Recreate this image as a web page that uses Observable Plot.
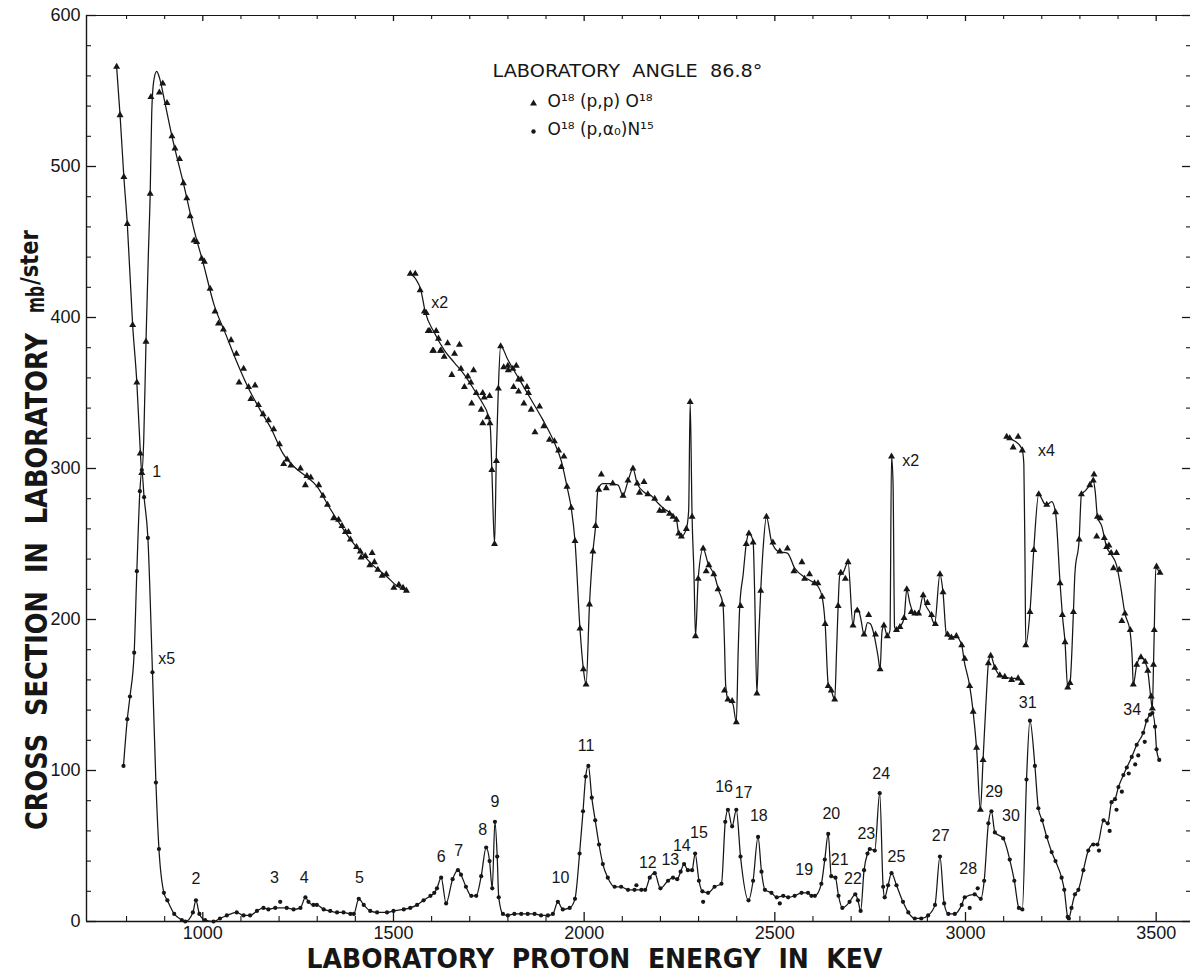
<!DOCTYPE html>
<html><head><meta charset="utf-8">
<script src="https://cdn.jsdelivr.net/npm/d3@7"></script>
<script src="https://cdn.jsdelivr.net/npm/@observablehq/plot@0.6"></script>
<style>body{margin:0;background:#fff}svg{display:block}</style>
</head><body><div id="chart"></div>
<script>
// ---- axes ----
const xDomain = [695, 3590];
const yDomain = [0, 600];
const xMajor = [1000, 1500, 2000, 2500, 3000, 3500];
const xMinor = [800, 900, 1100, 1200, 1300, 1400, 1600, 1700, 1800, 1900, 2100, 2200, 2300, 2400, 2600, 2700, 2800, 2900, 3100, 3200, 3300, 3400];
const yMajor = [0, 100, 200, 300, 400, 500, 600];
const yMinor = [20, 40, 60, 80, 120, 140, 160, 180, 220, 240, 260, 280, 320, 340, 360, 380, 420, 440, 460, 480, 520, 540, 560, 580];

// ---- O18(p,p)O18 : segment 1 (x1) ----
const ppSeg1Line = [[774,566],[783,534],[793,493],[802,462],[816,395],[827,357],[836,312],[840,297],[845,318],[851,384],[857,440],[862,482],[866,535],[871,556],[879,563],[886,559],[900,543],[920,519],[950,488],[980,455],[1000,437],[1030,408],[1060,389],[1090,370],[1120,353],[1150,339],[1180,326],[1210,310],[1240,301],[1270,295],[1300,288],[1330,275],[1360,263],[1390,252],[1420,243],[1450,235],[1480,229],[1510,222],[1534,219]];
const ppSeg1Pts = [[774,566],[783,534],[793,493],[802,462],[816,395],[827,357],[836,310],[840,297],[851,384],[862,482],[864,546],[886,549],[895,555],[906,542],[919,520],[927,512],[939,505],[949,489],[958,479],[967,467],[977,451],[984,450],[997,439],[1004,437],[1019,419],[1032,404],[1041,396],[1054,392],[1074,385],[1088,376],[1095,357],[1107,366],[1120,354],[1126,346],[1137,355],[1146,342],[1158,336],[1172,332],[1186,326],[1201,316],[1212,303],[1221,306],[1231,302],[1256,300],[1269,289],[1273,295],[1283,294],[1304,289],[1315,282],[1327,276],[1343,267],[1356,266],[1365,262],[1374,258],[1382,258],[1387,253],[1403,248],[1413,245],[1415,241],[1426,242],[1438,236],[1444,244],[1450,238],[1459,233],[1470,229],[1481,230],[1501,221],[1514,223],[1525,221],[1534,219]];

// ---- O18(p,p)O18 : segment 2 (x2) ----
const ppSeg2Line = [[1544,429],[1557,426],[1572,418],[1583,404],[1607,390],[1634,378],[1660,370],[1686,362],[1712,352],[1734,343],[1747,336],[1754,327],[1758,299],[1765,250],[1770,312],[1775,353],[1781,381],[1800,372],[1830,359],[1860,346],[1890,333],[1922,317],[1940,305],[1955,288],[1966,274],[1976,252],[1989,194],[1998,167],[2005,157],[2014,210],[2023,245],[2030,262],[2036,286],[2049,290],[2071,290],[2089,289],[2102,282],[2113,290],[2128,300],[2139,290],[2159,284],[2176,282],[2194,277],[2211,273],[2229,270],[2242,266],[2248,257],[2255,255],[2268,260],[2274,272],[2278,344],[2283,268],[2288,230],[2292,189],[2299,227],[2312,247],[2325,237],[2342,229],[2353,219],[2364,210],[2368,184],[2371,157],[2377,147],[2390,144],[2399,132],[2404,180],[2408,209],[2417,230],[2425,250],[2432,257],[2443,252],[2447,219],[2453,151],[2458,190],[2463,219],[2469,246],[2478,268],[2491,252],[2510,245],[2533,244],[2552,234],[2578,228],[2604,224],[2613,222],[2624,215],[2632,197],[2640,157],[2648,153],[2657,147],[2662,180],[2666,209],[2670,229],[2679,231],[2692,238],[2705,196],[2711,206],[2718,207],[2725,201],[2734,190],[2743,198],[2751,197],[2760,190],[2771,175],[2776,167],[2781,192],[2786,196],[2795,189],[2802,193],[2806,308],[2810,290],[2814,195],[2819,193],[2828,195],[2839,201],[2846,220],[2854,211],[2865,204],[2877,204],[2889,216],[2895,210],[2906,205],[2919,197],[2933,230],[2941,218],[2950,190],[2963,188],[2974,189],[2990,183],[2997,172],[3011,156],[3020,139],[3029,115],[3039,74],[3046,107],[3055,151],[3060,171],[3066,176],[3077,168],[3090,163],[3103,162],[3121,161],[3138,161],[3147,158]];
const ppSeg2Pts = [[1544,429],[1557,429],[1570,418],[1581,404],[1586,403],[1591,391],[1595,391],[1603,378],[1605,378],[1612,391],[1618,386],[1623,378],[1625,378],[1633,374],[1642,383],[1653,362],[1660,376],[1673,382],[1677,366],[1686,354],[1695,361],[1703,357],[1705,343],[1710,365],[1717,350],[1730,339],[1734,350],[1734,330],[1738,347],[1747,334],[1752,348],[1753,330],[1758,299],[1765,250],[1770,305],[1775,353],[1781,381],[1789,367],[1800,368],[1801,365],[1813,366],[1815,354],[1822,368],[1828,359],[1828,351],[1835,359],[1842,343],[1850,354],[1854,350],[1861,339],[1871,324],[1883,341],[1894,328],[1909,319],[1922,318],[1933,312],[1940,301],[1947,308],[1955,288],[1966,274],[1976,252],[1989,194],[1998,167],[2005,157],[2014,210],[2023,245],[2030,262],[2038,286],[2045,296],[2058,287],[2075,290],[2102,282],[2115,292],[2128,300],[2139,290],[2145,284],[2157,291],[2167,283],[2185,280],[2198,272],[2207,272],[2220,280],[2224,270],[2233,268],[2242,266],[2248,257],[2255,255],[2268,260],[2278,344],[2283,268],[2292,189],[2299,227],[2312,247],[2320,232],[2327,236],[2340,230],[2351,220],[2362,210],[2368,153],[2377,147],[2388,146],[2399,132],[2410,209],[2425,250],[2432,257],[2443,251],[2453,151],[2463,219],[2478,268],[2495,251],[2513,245],[2533,247],[2550,232],[2571,238],[2578,227],[2591,230],[2604,224],[2613,224],[2624,215],[2632,197],[2640,156],[2648,153],[2657,147],[2666,209],[2673,231],[2685,227],[2692,238],[2705,196],[2716,206],[2734,190],[2746,203],[2764,190],[2776,167],[2786,196],[2795,189],[2806,308],[2819,193],[2828,195],[2839,201],[2846,220],[2858,205],[2867,204],[2877,204],[2889,216],[2900,211],[2911,203],[2921,197],[2933,230],[2941,218],[2953,190],[2963,188],[2976,189],[2990,183],[2998,174],[3011,156],[3020,139],[3029,115],[3039,74],[3046,107],[3060,171],[3066,176],[3077,168],[3090,163],[3103,162],[3121,160],[3138,161],[3147,158]];

// ---- O18(p,p)O18 : segment 3 (x4) ----
const ppSeg3Line = [[3108,321],[3116,320],[3130,318],[3140,316],[3149,312],[3153,303],[3156,240],[3158,183],[3169,205],[3179,246],[3192,283],[3200,280],[3206,277],[3213,276],[3226,278],[3236,271],[3248,224],[3254,203],[3261,185],[3268,155],[3274,158],[3283,205],[3287,231],[3298,253],[3304,283],[3313,285],[3326,289],[3335,292],[3340,285],[3346,268],[3357,262],[3370,248],[3382,243],[3396,236],[3408,220],[3418,204],[3431,193],[3437,175],[3440,157],[3449,170],[3460,175],[3471,172],[3478,166],[3486,148],[3490,141],[3493,170],[3495,193],[3499,234],[3510,231]];
const ppSeg3Pts = [[3108,321],[3116,320],[3125,314],[3138,321],[3149,312],[3158,183],[3169,205],[3179,246],[3192,283],[3213,276],[3236,271],[3248,224],[3254,203],[3261,185],[3268,155],[3274,158],[3283,205],[3298,253],[3304,283],[3326,289],[3335,292],[3337,296],[3346,268],[3353,267],[3344,255],[3364,254],[3370,248],[3376,249],[3382,244],[3396,244],[3388,234],[3403,233],[3418,204],[3410,199],[3432,193],[3440,157],[3449,170],[3460,175],[3471,172],[3478,166],[3487,149],[3490,141],[3493,170],[3495,193],[3501,235],[3510,231]];

// ---- O18(p,alpha0)N15 ----
const alphaLine = [[792,103],[802,134],[809,149],[820,178],[827,232],[835,285],[840,299],[846,281],[856,254],[868,165],[877,92],[885,48],[898,19],[907,14],[925,5],[945,1],[954,0],[974,6],[982,14],[991,5],[1006,1],[1028,0],[1045,2],[1063,4],[1089,6],[1107,4],[1124,4],[1142,7],[1159,9],[1172,8],[1190,9],[1220,9],[1238,8],[1256,9],[1269,16],[1277,13],[1290,11],[1299,11],[1317,8],[1334,7],[1352,6],[1369,6],[1387,5],[1396,5],[1409,15],[1422,11],[1439,7],[1457,6],[1483,6],[1500,7],[1527,8],[1544,9],[1562,11],[1579,14],[1597,17],[1607,19],[1614,22],[1625,29],[1638,12],[1655,28],[1669,34],[1677,31],[1690,23],[1704,17],[1717,17],[1730,30],[1743,49],[1752,40],[1759,22],[1766,66],[1772,43],[1776,16],[1787,5],[1800,4],[1817,5],[1835,5],[1852,5],[1870,5],[1887,4],[1905,4],[1918,5],[1931,13],[1944,8],[1962,9],[1976,15],[1988,45],[1997,73],[2004,96],[2011,103],[2020,82],[2029,67],[2039,51],[2049,38],[2062,29],[2080,23],[2097,23],[2115,21],[2132,21],[2150,21],[2160,21],[2172,29],[2185,32],[2200,22],[2220,27],[2233,29],[2244,28],[2253,33],[2262,38],[2272,34],[2283,34],[2291,45],[2301,27],[2310,20],[2325,19],[2342,23],[2360,25],[2370,66],[2377,74],[2388,63],[2399,74],[2410,43],[2431,14],[2443,27],[2456,56],[2465,33],[2474,21],[2491,19],[2505,16],[2522,17],[2535,16],[2552,17],[2570,19],[2587,19],[2596,17],[2605,17],[2622,25],[2631,41],[2640,58],[2648,30],[2659,29],[2667,17],[2677,9],[2696,13],[2711,18],[2718,14],[2725,7],[2734,34],[2743,45],[2749,48],[2762,47],[2775,85],[2784,23],[2788,16],[2797,24],[2806,32],[2819,24],[2836,13],[2850,6],[2867,2],[2884,2],[2902,4],[2920,11],[2933,43],[2944,12],[2955,5],[2972,5],[2990,11],[2998,16],[3024,18],[3040,15],[3049,27],[3060,65],[3068,73],[3077,59],[3099,55],[3116,41],[3128,27],[3140,9],[3149,8],[3160,94],[3169,133],[3182,103],[3191,75],[3201,67],[3213,56],[3226,46],[3236,40],[3252,29],[3259,21],[3268,3],[3271,2],[3278,9],[3287,18],[3296,21],[3309,34],[3322,47],[3335,51],[3346,51],[3362,67],[3373,65],[3383,79],[3392,81],[3401,89],[3414,97],[3423,102],[3436,109],[3449,117],[3466,125],[3475,133],[3484,137],[3490,138],[3497,129],[3501,114],[3508,107]];
const alphaStray = [[1203,13],[2137,24],[2312,13],[2513,12],[3011,9],[3032,22],[3350,47],[3378,60],[3396,74],[3410,86],[3428,98],[3445,104],[3453,110],[3470,119]];

// ---- annotations (resonance numbers and scale factors) ----
const peakLabels = [["1",879,298],["x5",905,174],["x2",1621,410],["x2",2856,305],["x4",3212,312],
  ["2",982,28],["3",1188,29],["4",1266,29],["5",1411,29],["6",1625,43],["7",1671,47],["8",1734,61],["9",1766,79],
  ["10",1938,29],["11",2005,116],["12",2167,39],["13",2226,41],["14",2256,50],["15",2301,59],["16",2367,89],["17",2418,85],
  ["18",2458,70],["19",2577,34],["20",2648,71],["21",2670,41],["22",2705,28],["23",2740,58],["24",2779,98],["25",2819,43],
  ["27",2935,57],["28",3007,35],["29",3075,86],["30",3119,70],["31",3163,145],["34",3437,140]];

const xTitle = "LABORATORY  PROTON  ENERGY  IN  KEV";
const yTitle = "CROSS  SECTION  IN  LABORATORY";
const legendTitle = "LABORATORY  ANGLE  86.8°";
const legendPP = "O¹⁸ (p,p) O¹⁸";
const legendPA = "O¹⁸ (p,α₀)N¹⁵";

const obj = a => a.map(([E, v]) => ({E, v}));
const W = 1194, H = 974, mL = 86, mR = 4, mT = 15, mB = 53;
const fw = W - mL - mR, fh = H - mT - mB;
const ink = "#161616";
const heavy = "'DejaVu Sans', sans-serif";
const lineOpts = {x: "E", y: "v", stroke: ink, strokeWidth: 1.25, curve: "monotone-x"};
const triOpts = {x: "E", y: "v", symbol: "triangle", r: 2.6, fill: ink, stroke: "none"};
const dotOpts = {x: "E", y: "v", r: 2.1, fill: ink, stroke: "none"};
const place = {frameAnchor: "top-left", textAnchor: "middle", lineAnchor: "middle", fill: ink};

const svg = Plot.plot({
  width: W, height: H, marginLeft: mL, marginRight: mR, marginTop: mT, marginBottom: mB,
  style: {fontFamily: "'Liberation Sans', Arial, sans-serif", fontSize: "18px", background: "#fff", color: ink},
  x: {domain: xDomain, ticks: xMajor, tickSize: 0, tickPadding: 5, tickFormat: d => String(d), label: null},
  y: {domain: yDomain, ticks: yMajor, tickSize: 0, tickPadding: 6, tickFormat: d => String(d), label: null},
  marks: [
    Plot.ruleY([yDomain[0]], {stroke: ink, strokeWidth: 1.4}),
    Plot.ruleY([yDomain[1]], {stroke: ink, strokeWidth: 1.2}),
    Plot.ruleX([xDomain[0]], {stroke: ink, strokeWidth: 1.4}),
    Plot.ruleX(xMajor, {stroke: ink, strokeWidth: 1.3, insetTop: fh - 9}),
    Plot.ruleX(xMinor, {stroke: ink, strokeWidth: 1.1, insetTop: fh - 5}),
    Plot.ruleX(xMajor, {stroke: ink, strokeWidth: 1.3, insetBottom: fh - 6}),
    Plot.ruleX(xMinor, {stroke: ink, strokeWidth: 1.1, insetBottom: fh - 4}),
    Plot.ruleY(yMajor, {stroke: ink, strokeWidth: 1.3, insetRight: fw - 10}),
    Plot.ruleY(yMinor, {stroke: ink, strokeWidth: 1.1, insetRight: fw - 5}),
    Plot.ruleY(yMajor, {stroke: ink, strokeWidth: 1.3, insetLeft: fw - 8}),
    Plot.ruleY(yMinor, {stroke: ink, strokeWidth: 1.1, insetLeft: fw - 4}),

    Plot.line(obj(ppSeg1Line), lineOpts),
    Plot.line(obj(ppSeg2Line), lineOpts),
    Plot.line(obj(ppSeg3Line), lineOpts),
    Plot.line(obj(alphaLine), lineOpts),
    Plot.dot(obj(ppSeg1Pts), triOpts),
    Plot.dot(obj(ppSeg2Pts), triOpts),
    Plot.dot(obj(ppSeg3Pts), triOpts),
    Plot.dot(obj(alphaLine), dotOpts),
    Plot.dot(obj(alphaStray), dotOpts),

    Plot.text(peakLabels, {x: d => d[1], y: d => d[2], text: d => d[0], fontSize: 16, fill: ink}),

    // legend
    Plot.text([legendTitle], {...place, textAnchor: "start", dx: 406, dy: 56, fontSize: 18, fontFamily: heavy}),
    Plot.dot([0], {frameAnchor: "top-left", dx: 447, dy: 88, symbol: "triangle", r: 2.6, fill: ink}),
    Plot.text([legendPP], {...place, textAnchor: "start", dx: 461, dy: 86, fontSize: 17, fontFamily: heavy}),
    Plot.dot([0], {frameAnchor: "top-left", dx: 447, dy: 116, r: 2.2, fill: ink}),
    Plot.text([legendPA], {...place, textAnchor: "start", dx: 461, dy: 114, fontSize: 17, fontFamily: heavy}),

    // axis titles
    Plot.text([xTitle], {...place, dx: 594 - mL, dy: 959 - mT, fontSize: 26, fontWeight: "bold", fontFamily: heavy}),
    Plot.text([yTitle], {...place, rotate: -90, dx: 37 - mL, dy: 581 - mT, fontSize: 31, fontWeight: "bold", fontFamily: heavy}),
    Plot.text(["mb"], {...place, rotate: -90, dx: 36 - mL, dy: 299 - mT, fontSize: 24, fontWeight: "bold", fontFamily: heavy}),
    Plot.text(["/ster"], {...place, rotate: -90, dx: 30 - mL, dy: 257 - mT, fontSize: 24, fontWeight: "bold", fontFamily: heavy})
  ]
});

const fit = (txt, len) => d3.select(svg).selectAll("text")
  .filter(function() { return this.textContent === txt; })
  .attr("textLength", len).attr("lengthAdjust", "spacingAndGlyphs");
fit(xTitle, 576);
fit(yTitle, 497);
fit("mb", 27);
fit("/ster", 55);
fit(legendTitle, 270);

document.getElementById("chart").appendChild(svg);
</script>
</body></html>
